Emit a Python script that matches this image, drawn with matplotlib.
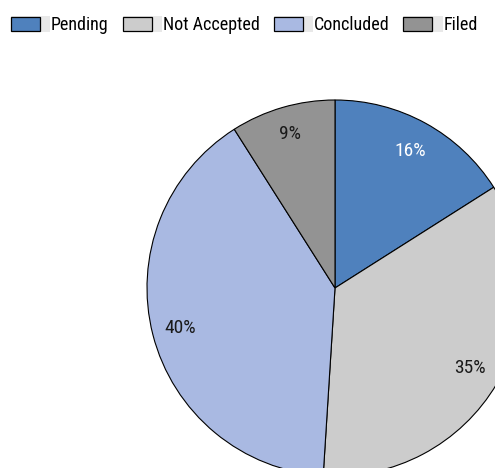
import matplotlib
matplotlib.use("Agg")
import matplotlib.pyplot as plt
from matplotlib.patches import Rectangle
from matplotlib.legend_handler import HandlerBase
import numpy as np

categories = ["Pending", "Not Accepted", "Concluded", "Filed"]
values = [16, 35, 40, 9]
colors = ["#4F81BD", "#CCCCCC", "#A9B9E2", "#939393"]
label_colors = ["white", "#1a1a1a", "#1a1a1a", "#1a1a1a"]
label_dist = [0.83, 0.835, 0.85, 0.855]

plt.rcParams['font.family'] = ['Roboto Condensed', 'Liberation Sans', 'DejaVu Sans']


class ShadowHandler(HandlerBase):
    def create_artists(self, legend, orig_handle, xdescent, ydescent,
                       width, height, fontsize, trans):
        bg = Rectangle((-xdescent, -ydescent - 0.08 * height), width * 1.36,
                       height * 1.12, facecolor="#E8E8E8", edgecolor="none",
                       transform=trans)
        p = Rectangle((-xdescent, -ydescent), width, height,
                      facecolor=orig_handle.get_facecolor(), edgecolor="black",
                      linewidth=0.9, transform=trans)
        return [bg, p]


fig = plt.figure(figsize=(4.95, 4.68), dpi=100)
ax = fig.add_axes([0, 0, 1, 1])
wedges, _ = ax.pie(values, colors=colors, startangle=90, counterclock=False,
                   radius=1.0, center=(0, 0),
                   wedgeprops=dict(edgecolor="black", linewidth=0.8))

total = sum(values)
cum = 0
for v, d, c in zip(values, label_dist, label_colors):
    mid = 90 - 360 * (cum + v / 2) / total
    cum += v
    t = np.deg2rad(mid)
    ax.text(d * np.cos(t), d * np.sin(t), f"{v}%", ha="center", va="center",
            fontsize=14, color=c)

r = 188.0
ax.set_xlim(-335 / r, 160 / r)
ax.set_ylim(-180 / r, 288 / r)
ax.set_aspect("equal")
ax.axis("off")

fs = 13
px = fs * 100 / 72
leg = fig.legend(wedges, categories, loc="center left",
                 bbox_to_anchor=(11 / 495, 1 - 25 / 468),
                 ncol=4, frameon=False, fontsize=fs,
                 handlelength=29 / px, handleheight=15 / px,
                 handletextpad=11 / px, columnspacing=14 / px,
                 borderpad=0, borderaxespad=0,
                 handler_map={w: ShadowHandler() for w in wedges})
fig.savefig("out.png", dpi=100)
